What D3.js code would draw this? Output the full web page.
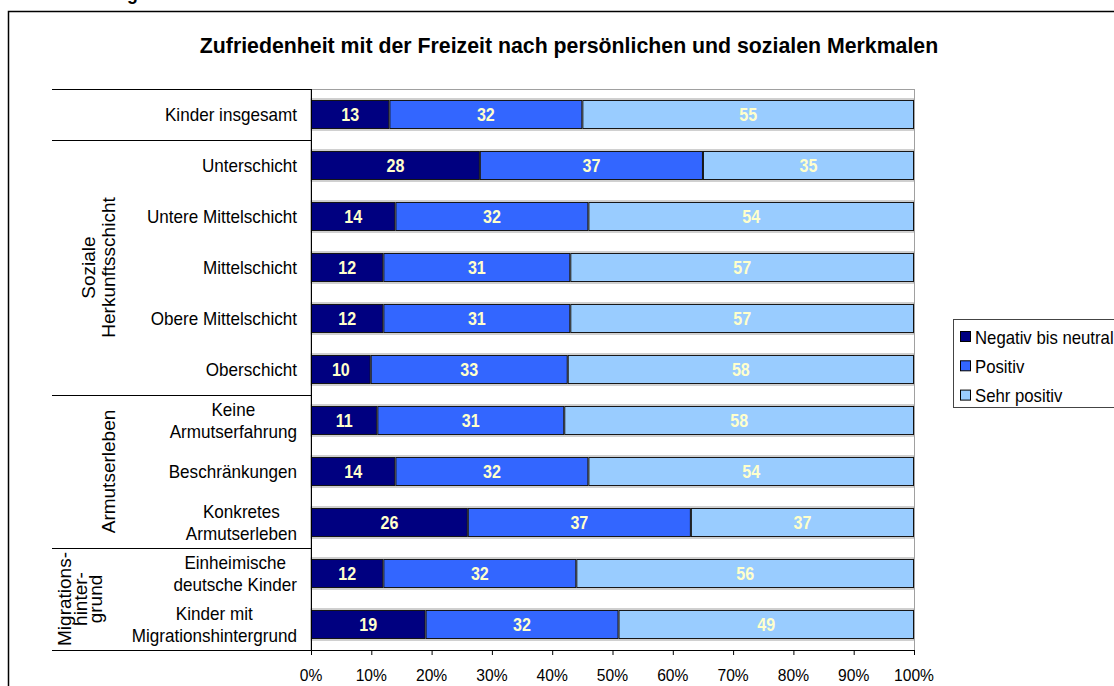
<!DOCTYPE html>
<html><head><meta charset="utf-8">
<script src="https://cdn.jsdelivr.net/npm/d3@7"></script>
<style>body{margin:0;background:#fff}svg{display:block}text{font-family:"Liberation Sans",Arial,sans-serif}</style>
</head><body>
<svg id="c" width="1114" height="686"></svg>
<script>
const categories = ["Kinder insgesamt","Unterschicht","Untere Mittelschicht","Mittelschicht","Obere Mittelschicht","Oberschicht","Keine\nArmutserfahrung","Beschränkungen","Konkretes\nArmutserleben","Einheimische\ndeutsche Kinder","Kinder mit\nMigrationshintergrund"];
const seriesNames = ["Negativ bis neutral","Positiv","Sehr positiv"];
const negativ = [13,28,14,12,12,10,11,14,26,12,19];
const positiv = [32,37,32,31,31,33,31,32,37,32,32];
const sehrPositiv = [55,35,54,57,57,58,58,54,37,56,49];
const groups = [
  {label:["Soziale","Herkunftsschicht"], from:1, to:5},
  {label:["Armutserleben"], from:6, to:8},
  {label:["Migrations-","hinter-","grund"], from:9, to:10}
];
const groupBreaks = [0,1,6,9,11];
const xTicks = [0,0.1,0.2,0.3,0.4,0.5,0.6,0.7,0.8,0.9,1];
const title = "Zufriedenheit mit der Freizeit nach persönlichen und sozialen Merkmalen";
const colors = ["#000080","#3366FF","#99CCFF"];

const svg = d3.select("#c");
const plot = {l:311, r:914, t:89, b:650};

// compressed text helper
function ctext(g, x, y, str, size, sx, anchor, weight, fill){
  const t = g.append("g").attr("transform",`translate(${x},${y}) scale(${sx},1)`)
    .append("text").attr("text-anchor",anchor).attr("font-size",size)
    .attr("font-weight",weight||"normal").attr("fill",fill||"#000").text(str);
  return t;
}

// outer frame and cut heading
svg.append("rect").attr("x",8.5).attr("y",11.5).attr("width",1200).attr("height",800)
  .attr("fill","none").attr("stroke","#000").attr("stroke-width",1.5);
ctext(svg, 138, 0, "Abbildung", 21, 0.85, "end", "bold");

// title
ctext(svg, 569, 53, title, 21.3, 1, "middle", "bold");

const x = d3.scaleLinear().domain([0,1]).range([plot.l, plot.r]);
const y = d3.scaleBand().domain(d3.range(categories.length)).range([plot.t, plot.b])
  .paddingInner(0.43).paddingOuter(0.215);

// plot border
svg.append("rect").attr("x",plot.l).attr("y",plot.t+0.5).attr("width",plot.r-plot.l+0.5).attr("height",plot.b-plot.t)
  .attr("fill","none").attr("stroke","#a0a0a0").attr("stroke-width",1);

const rows = categories.map((c,i)=>{
  const vals=[negativ[i],positiv[i],sehrPositiv[i]];
  const tot=d3.sum(vals);
  let acc=0;
  return vals.map((v,k)=>{const s={i,k,v,x0:acc/tot,x1:(acc+v)/tot};acc+=v;return s;});
});

// bars with gray outer line
const bars = svg.append("g");
categories.forEach((c,i)=>{
  bars.append("rect").attr("x",x(0)).attr("y",y(i)-1).attr("width",x(1)-x(0)).attr("height",y.bandwidth()+2)
    .attr("fill","none").attr("stroke","#a8a8a8").attr("stroke-width",1);
});
bars.selectAll("rect.seg").data(rows.flat()).join("rect").attr("class","seg")
  .attr("x",d=>x(d.x0)+0.5).attr("y",d=>y(d.i)+0.5)
  .attr("width",d=>x(d.x1)-x(d.x0)-1).attr("height",y.bandwidth()-1)
  .attr("fill",d=>colors[d.k]).attr("stroke","#111").attr("stroke-width",1);
rows.flat().forEach(d=>{
  ctext(bars,(x(d.x0)+x(d.x1))/2, y(d.i)+y.bandwidth()/2+6.5, String(d.v), 18.5, 0.87, "middle","bold","#FFFFCC");
});

// x axis
const xa = svg.append("g").attr("transform",`translate(0,${plot.b})`)
  .call(d3.axisBottom(x).tickValues(xTicks).tickSize(5).tickFormat(()=>""));
xa.select(".domain").attr("stroke","#000");
xa.selectAll(".tick line").attr("stroke","#000");
xTicks.forEach(t=>ctext(svg, x(t), 681, d3.format(".0%")(t), 17, 0.92, "middle"));

// y axis line
svg.append("line").attr("x1",plot.l+0.5).attr("x2",plot.l+0.5).attr("y1",plot.t).attr("y2",plot.b+5).attr("stroke","#000");

// category labels: multi-line labels are centered lines in a block right-aligned at 297
const labSize = 18, labSx = 0.95, labRight = 297;
const meas = svg.append("text").attr("font-size",labSize).attr("visibility","hidden");
function widthOf(s){ meas.text(s); return meas.node().getComputedTextLength()*labSx; }
categories.forEach((c,i)=>{
  const lines=c.split("\n");
  const cy=y(i)+y.bandwidth()/2;
  if(lines.length===1){
    ctext(svg, labRight, cy+6, c, labSize, labSx, "end");
  } else {
    const maxW = d3.max(lines, widthOf);
    lines.forEach((ln,j)=>{
      const yy = cy + 6 + (j-(lines.length-1)/2)*22;
      ctext(svg, labRight - maxW/2, yy, ln, labSize, labSx, "middle");
    });
  }
});
meas.remove();

// group separator lines
groupBreaks.forEach(b=>{
  const yy = plot.t + y.step()*b;
  svg.append("line").attr("x1",52).attr("x2",plot.l).attr("y1",Math.round(yy)+0.5).attr("y2",Math.round(yy)+0.5)
    .attr("stroke","#000").attr("stroke-width",1);
});

// group labels (rotated)
const groupX = {0:[88,108],1:[108],2:[64,80,95]};
groups.forEach((g,gi)=>{
  const top = plot.t + y.step()*g.from, bot = plot.t + y.step()*(g.to+1);
  const cy=(top+bot)/2;
  g.label.forEach((ln,j)=>{
    svg.append("text").attr("transform",`translate(${groupX[gi][j]+7},${cy}) rotate(-90)`)
      .attr("text-anchor","middle").attr("font-size",19).text(ln);
  });
});

// legend
const lg = svg.append("g");
lg.append("rect").attr("x",953.5).attr("y",319.5).attr("width",300).attr("height",88)
  .attr("fill","#fff").attr("stroke","#444");
seriesNames.forEach((s,k)=>{
  const cy=337+k*29.3;
  lg.append("rect").attr("x",960.5).attr("y",cy-5.5).attr("width",10).attr("height",10)
    .attr("fill",colors[k]).attr("stroke","#000");
  ctext(lg, 975, cy+6.5, s, 18, 0.93, "start");
});
</script>
</body></html>
